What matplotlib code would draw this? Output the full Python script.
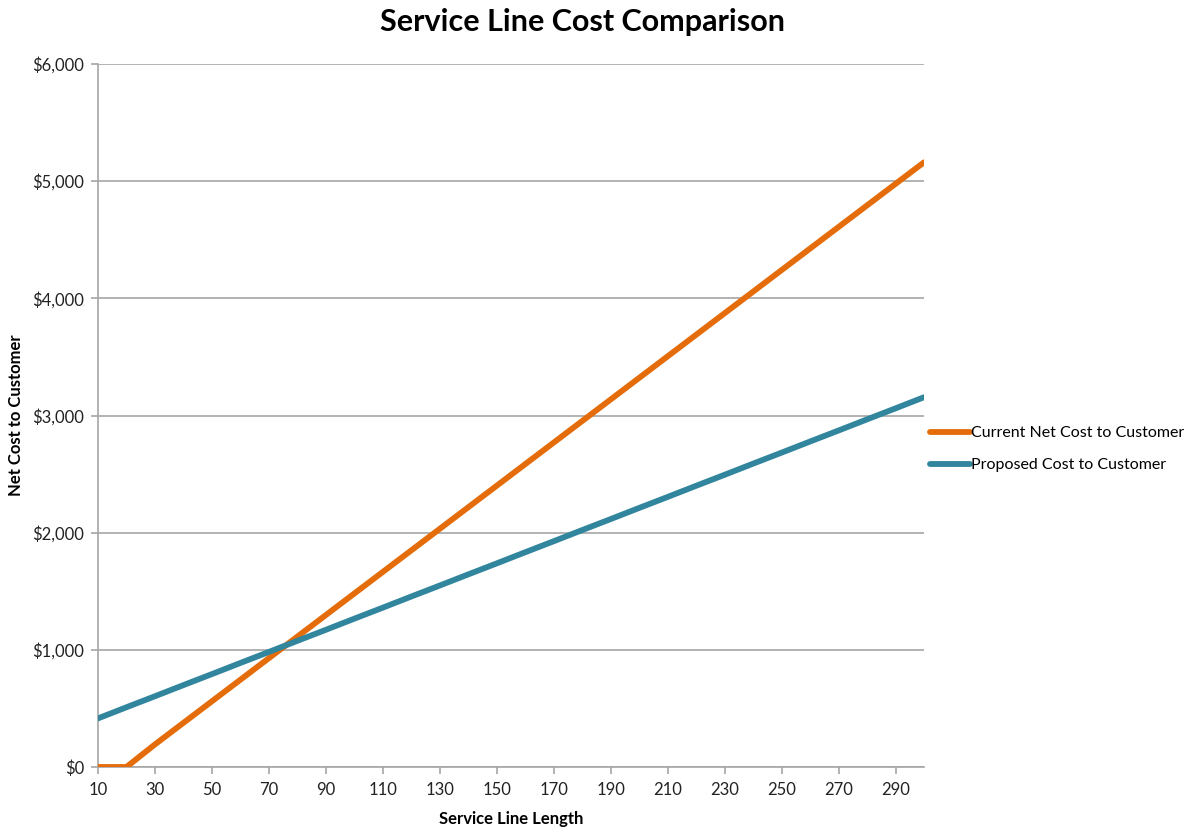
import matplotlib.pyplot as plt
from matplotlib.ticker import FuncFormatter, MultipleLocator

plt.rcParams['font.family'] = ['Lato', 'DejaVu Sans']

# service line length (ft)
length = [10, 20, 30, 40, 50, 60, 70, 80, 90, 100, 110, 120, 130, 140, 150,
          160, 170, 180, 190, 200, 210, 220, 230, 240, 250, 260, 270, 280, 290, 300]
current_cost = [0, 0, 193, 377, 561, 745, 929, 1113, 1297, 1481, 1665, 1849, 2033, 2217, 2401,
                2585, 2769, 2953, 3137, 3321, 3505, 3689, 3873, 4057, 4241, 4425, 4609, 4793, 4977, 5161]
proposed_cost = [415, 510, 604, 699, 793, 888, 982, 1077, 1171, 1266, 1360, 1455, 1549, 1644, 1738,
                 1833, 1927, 2022, 2116, 2211, 2305, 2400, 2494, 2589, 2683, 2778, 2872, 2967, 3061, 3156]
xticks = list(range(10, 300, 20))

fig = plt.figure(figsize=(12.04, 8.31), dpi=100)
ax = fig.add_axes([98 / 1204, 1 - 767 / 831, (924 - 98) / 1204, (767 - 64) / 831])

ax.plot(length, current_cost, color='#E46C0A', lw=4.2, solid_capstyle='round',
        label='Current Net Cost to Customer', zorder=3)
ax.plot(length, proposed_cost, color='#31859C', lw=4.2, solid_capstyle='round',
        label='Proposed Cost to Customer', zorder=3)

ax.set_xlim(10, 300)
ax.set_ylim(0, 6000)
ax.set_xticks(xticks)
ax.yaxis.set_major_locator(MultipleLocator(1000))
ax.yaxis.set_major_formatter(FuncFormatter(lambda v, p: '${:,.0f}'.format(v)))
ax.grid(True, axis='y', color='#A6A6A6', lw=1.2)
ax.set_axisbelow(True)
for s in ['top', 'right']:
    ax.spines[s].set_visible(False)
for s in ['left', 'bottom']:
    ax.spines[s].set_color('#A6A6A6')
    ax.spines[s].set_linewidth(1.2)
ax.tick_params(axis='both', colors='#A6A6A6', labelcolor='#222222', labelsize=12, length=5, width=1.2)
ax.tick_params(axis='y', pad=5)
ax.tick_params(axis='x', pad=6)

ax.set_xlabel('Service Line Length', fontsize=12, fontweight='bold', labelpad=9)
fig.text(16 / 1204, 1 - 415 / 831, 'Net Cost to Customer', fontsize=12, fontweight='bold',
         rotation=90, ha='center', va='center')
fig.text(583 / 1204, 1 - 22 / 831, 'Service Line Cost Comparison', fontsize=22,
         fontweight='bold', ha='center', va='center')

ax.legend(loc='center left', bbox_to_anchor=(1.0, 0.452), frameon=False,
          fontsize=11.5, handlelength=2.5, handletextpad=0.05, labelspacing=1.1,
          borderaxespad=0.0)

fig.savefig('out.png', dpi=100)
